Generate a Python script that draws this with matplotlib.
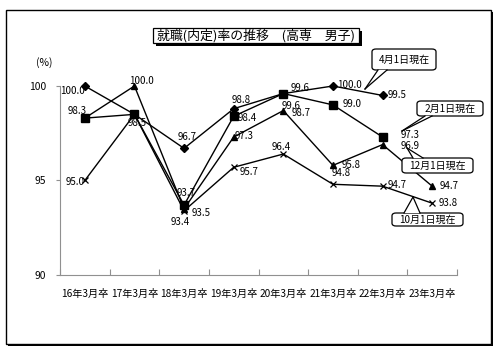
import numpy as np
import matplotlib
matplotlib.use("Agg")
import matplotlib.pyplot as plt
from matplotlib.patches import Rectangle, FancyBboxPatch, Polygon
from matplotlib.lines import Line2D

plt.rcParams['font.family'] = ['Noto Sans CJK JP', 'DejaVu Sans']

categories = ["16年3月卒", "17年3月卒", "18年3月卒", "19年3月卒",
              "20年3月卒", "21年3月卒", "22年3月卒", "23年3月卒"]
apr1 = [100.0, 98.5, 96.7, 98.8, 99.6, 100.0, 99.5, np.nan]   # 4月1日現在
feb1 = [98.3, 98.5, 93.7, 98.4, 99.6, 99.0, 97.3, np.nan]     # 2月1日現在
dec1 = [98.3, 100.0, 93.5, 97.3, 98.7, 95.8, 96.9, 94.7]      # 12月1日現在
oct1 = [95.0, 98.5, 93.4, 95.7, 96.4, 94.8, 94.7, 93.8]       # 10月1日現在
title = "就職(内定)率の推移　(高専　男子)"
series_names = ["4月1日現在", "2月1日現在", "12月1日現在", "10月1日現在"]

W, H = 498, 349
fig = plt.figure(figsize=(W / 100, H / 100), dpi=100)

def fx(px):
    return px / W

def fy(py):
    return 1 - py / H

# outer frame with shadow
fig.patches.append(Rectangle((fx(8), fy(346)), fx(485), fy(10) - fy(344),
                             transform=fig.transFigure, facecolor='black', edgecolor='none', zorder=-3))
fig.patches.append(Rectangle((fx(6), fy(344)), fx(485), fy(10) - fy(344),
                             transform=fig.transFigure, facecolor='white', edgecolor='black', lw=1.0, zorder=-2))

ax = fig.add_axes([fx(60), fy(275), fx(457) - fx(60), fy(86) - fy(275)])
ax.set_zorder(1)
ax.set_facecolor('none')
x = np.arange(len(categories))
ax.set_xlim(-0.5, len(categories) - 0.5)
ax.set_ylim(90, 100)

lw = 1.0
ax.plot(x, oct1, color='black', lw=lw, marker='x', ms=4.5, mew=0.9, clip_on=False, zorder=3)
ax.plot(x, dec1, color='black', lw=lw, marker='^', ms=5, clip_on=False, zorder=3)
ax.plot(x, apr1, color='black', lw=lw, marker='D', ms=3.6, clip_on=False, zorder=3)
ax.plot(x, feb1, color='black', lw=lw, marker='s', ms=5.5, clip_on=False, zorder=3)

for s in ['top', 'right']:
    ax.spines[s].set_visible(False)
for s in ['left', 'bottom']:
    ax.spines[s].set_color('#909090')
    ax.spines[s].set_linewidth(0.8)

ax.set_yticks([90, 95, 100])
ax.set_yticklabels(["90", "95", "100"], fontsize=7.4)
ax.tick_params(axis='y', length=3, width=0.8, color='#909090', pad=7)
ax.set_xticks(x)
ax.set_xticklabels(categories, fontsize=7.3)
ax.tick_params(axis='x', which='major', length=0, pad=10)
ax.set_xticks(np.arange(-0.5, len(categories)), minor=True)
ax.tick_params(axis='x', which='minor', direction='in', length=4, width=0.8, color='#909090')

# data labels: (series, index, dx, dy) in pixels (dy downwards)
label_specs = [
    (apr1, 0, -12, 5), (apr1, 2, 3, -11), (apr1, 3, 8, -9), (apr1, 4, 17, -6),
    (apr1, 5, 17, -1), (apr1, 6, 15, 0),
    (feb1, 0, -8, -7), (feb1, 1, 3, 9), (feb1, 2, 2, -12), (feb1, 3, 14, 2),
    (feb1, 4, 8, 12), (feb1, 5, 19, -1), (feb1, 6, 28, -2),
    (dec1, 1, 7, -5), (dec1, 2, 17, 4), (dec1, 3, 10, -1), (dec1, 4, 18, 2),
    (dec1, 5, 18, 0), (dec1, 6, 28, 1), (dec1, 7, 17, 0),
    (oct1, 0, -10, 2), (oct1, 2, -4, 11), (oct1, 3, 15, 5), (oct1, 4, -2, -7),
    (oct1, 5, 8, -11), (oct1, 6, 15, -1), (oct1, 7, 16, 0),
]
for ser, i, dx, dy in label_specs:
    ax.annotate(f"{ser[i]:.1f}", (x[i], ser[i]), xytext=(dx, -dy), textcoords='offset pixels',
                ha='center', va='center', fontsize=7, zorder=4, annotation_clip=False)

# y unit
fig.text(fx(44), fy(63), "(%)", ha='center', va='center', fontsize=7.5)

# title box with shadow
fig.patches.append(Rectangle((fx(156), fy(46)), fx(206), fy(28) - fy(43),
                             transform=fig.transFigure, facecolor='black', edgecolor='none', zorder=2))
fig.patches.append(Rectangle((fx(153), fy(43)), fx(206), fy(28) - fy(43),
                             transform=fig.transFigure, facecolor='white', edgecolor='black', lw=0.9, zorder=3))
fig.text(fx(256), fy(35.5), title, ha='center', va='center', fontsize=9.3, zorder=4)

# callouts: (name, box x0, y0, x1, y1, base xa, base xb, base y, tip x, tip y)
callouts = [
    (series_names[0], 372, 49, 436, 70, 378, 387, 70, 365, 89),
    (series_names[1], 417, 101, 483, 116, 425, 432, 116, 402, 131),
    (series_names[2], 402, 158, 473, 173, 413, 423, 158, 407, 148),
    (series_names[3], 392, 213, 463, 226, 404, 420, 213, 413, 197),
]
for name, x0, y0, x1, y1, xa, xb, by, tx, ty in callouts:
    box = FancyBboxPatch((fx(x0), fy(y1)), fx(x1) - fx(x0), fy(y0) - fy(y1),
                         boxstyle="round,pad=0,rounding_size=0.008",
                         transform=fig.transFigure, facecolor='white', edgecolor='black',
                         lw=0.9, zorder=5)
    fig.patches.append(box)
    poly = Polygon([(fx(xa), fy(by)), (fx(tx), fy(ty)), (fx(xb), fy(by))], closed=True,
                   transform=fig.transFigure, facecolor='white', edgecolor='none', zorder=6)
    fig.patches.append(poly)
    for bx in (xa, xb):
        fig.lines.append(Line2D([fx(bx), fx(tx)], [fy(by), fy(ty)], transform=fig.transFigure,
                                color='black', lw=0.9, zorder=7))
    fig.text(fx((x0 + x1) / 2), fy((y0 + y1) / 2), name, ha='center', va='center',
             fontsize=7.2, zorder=8)

fig.savefig("out.png", dpi=100)
